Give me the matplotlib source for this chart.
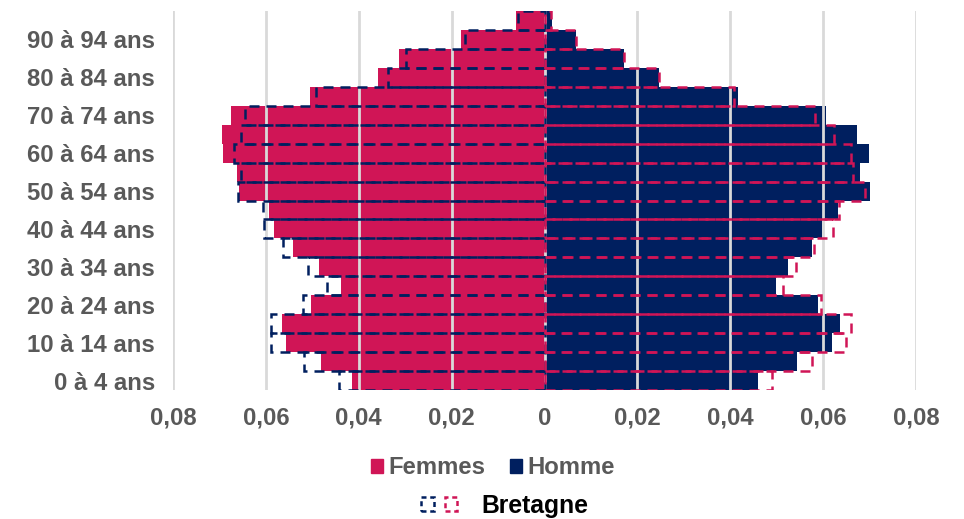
import matplotlib.pyplot as plt
import numpy as np
from matplotlib.patches import Rectangle
from matplotlib.legend_handler import HandlerTuple

plt.rcParams['font.family'] = ['Liberation Sans', 'DejaVu Sans']

ages = ['0 à 4 ans', '5 à 9 ans', '10 à 14 ans', '15 à 19 ans', '20 à 24 ans',
        '25 à 29 ans', '30 à 34 ans', '35 à 39 ans', '40 à 44 ans', '45 à 49 ans',
        '50 à 54 ans', '55 à 59 ans', '60 à 64 ans', '65 à 69 ans', '70 à 74 ans',
        '75 à 79 ans', '80 à 84 ans', '85 à 89 ans', '90 à 94 ans', '95 ans et +']

femmes = [0.0414, 0.0482, 0.0557, 0.0565, 0.0502, 0.0439, 0.0485, 0.0541, 0.0582, 0.0593,
          0.0658, 0.0663, 0.0692, 0.0694, 0.0675, 0.0504, 0.0358, 0.0314, 0.0179, 0.0061]
hommes = [0.0459, 0.0543, 0.0619, 0.0636, 0.0589, 0.0498, 0.0525, 0.0577, 0.0597, 0.0632,
          0.0701, 0.0679, 0.0699, 0.0674, 0.0607, 0.0417, 0.0247, 0.0172, 0.0068, 0.0016]
bretagne_f = [0.0443, 0.0518, 0.0589, 0.0589, 0.0521, 0.0468, 0.0510, 0.0564, 0.0604, 0.0606,
              0.0660, 0.0654, 0.0669, 0.0654, 0.0645, 0.0491, 0.0337, 0.0299, 0.0172, 0.0057]
bretagne_h = [0.0489, 0.0577, 0.0650, 0.0660, 0.0595, 0.0513, 0.0541, 0.0581, 0.0622, 0.0634,
              0.0690, 0.0665, 0.0659, 0.0624, 0.0583, 0.0409, 0.0247, 0.0171, 0.0067, 0.0014]

xticks = [-0.08, -0.06, -0.04, -0.02, 0, 0.02, 0.04, 0.06, 0.08]
xticklabels = ['0,08', '0,06', '0,04', '0,02', '0', '0,02', '0,04', '0,06', '0,08']

rouge = '#D01556'
bleu = '#001F5F'
gris = '#595959'
dash = (0, (4, 2.8))

fig = plt.figure(figsize=(9.64, 5.19), dpi=100)
ax = fig.add_axes([173 / 964, 1 - 390 / 519, 743 / 964, 379 / 519])

y = np.arange(len(ages))
ax.barh(y, -np.array(femmes), height=1, color=rouge, zorder=1)
ax.barh(y, hommes, height=1, color=bleu, zorder=1)
ax.barh(y, -np.array(bretagne_f), height=1, fill=False, edgecolor=bleu,
        linewidth=1.8, linestyle=dash, zorder=3)
ax.barh(y, bretagne_h, height=1, fill=False, edgecolor=rouge,
        linewidth=1.8, linestyle=dash, zorder=3)

for xv in xticks:
    ax.axvline(xv, color='#d9d9d9', linewidth=2, zorder=2)

ax.set_xlim(-0.08, 0.08)
ax.set_ylim(-0.5, len(ages) - 0.5)
ax.set_xticks(xticks)
ax.set_xticklabels(xticklabels)
ax.set_yticks(y[::2])
ax.set_yticklabels(ages[::2])
ax.tick_params(length=0, labelsize=17.2, labelcolor=gris)
ax.tick_params(axis='y', pad=13)
ax.tick_params(axis='x', pad=12)
for lab in ax.get_xticklabels() + ax.get_yticklabels():
    lab.set_fontweight('bold')
for s in ax.spines.values():
    s.set_visible(False)

h1 = [Rectangle((0, 0), 1, 1, color=rouge), Rectangle((0, 0), 1, 1, color=bleu)]
leg1 = fig.legend(h1, ['Femmes', 'Homme'], loc='center', bbox_to_anchor=(493 / 964, 1 - 468 / 519),
                  ncol=2, frameon=False, handlelength=0.5, handleheight=0.5,
                  handletextpad=0.25, columnspacing=1.0,
                  prop={'size': 17.2, 'weight': 'bold'})
for t in leg1.get_texts():
    t.set_color(gris)

h2 = (Rectangle((0, 0), 1, 1, fill=False, edgecolor=bleu, linewidth=1.8, linestyle=(0, (2, 1.5))),
      Rectangle((0, 0), 1, 1, fill=False, edgecolor=rouge, linewidth=1.8, linestyle=(0, (2, 1.5))))
leg2 = fig.legend([h2], ['Bretagne'], loc='center', bbox_to_anchor=(505 / 964, 1 - 506 / 519),
                  frameon=False, handlelength=1.45, handleheight=0.5, handletextpad=1.0,
                  handler_map={tuple: HandlerTuple(ndivide=2, pad=0.45)},
                  prop={'size': 17.8, 'weight': 'bold'})

fig.savefig('out.png', dpi=100)
